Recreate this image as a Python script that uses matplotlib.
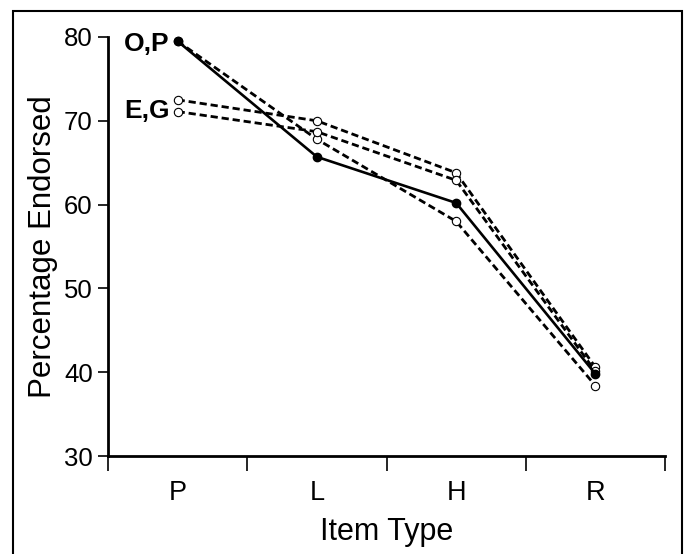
import matplotlib
matplotlib.use("Agg")
import matplotlib.pyplot as plt
import numpy as np
from matplotlib.patches import Rectangle

plt.rcParams['font.family'] = ['Liberation Sans', 'DejaVu Sans']

items = ['P', 'L', 'H', 'R']
series_O = [79.5, 67.8, 58.0, 38.4]
series_P = [79.5, 65.7, 60.2, 39.8]
series_E = [72.5, 70.0, 63.8, 40.6]
series_G = [71.1, 68.7, 62.9, 40.1]

x = np.arange(len(items)) + 0.5

fig = plt.figure(figsize=(6.85, 5.54), dpi=100)
ax = fig.add_axes([108/685, 1 - 456/554, (665-108)/685, (456-37)/554])

dash = (0, (2.6, 1.4))
for s in [series_O, series_E, series_G]:
    ax.plot(x, s, color='black', lw=2.0, linestyle=dash, marker='o',
            markersize=6, markerfacecolor='white', markeredgecolor='black',
            markeredgewidth=0.8, clip_on=False)
ax.plot(x, series_P, color='black', lw=1.9, marker='o', markersize=6,
        markerfacecolor='black', clip_on=False)

ax.set_xlim(0, 4)
ax.set_ylim(30, 80)
ax.set_xticks([0, 1, 2, 3, 4])
ax.set_xticklabels([])
ax.set_xticks(x, minor=True)
ax.set_xticklabels(items, minor=True, fontsize=19.5)
ax.tick_params(axis='x', which='minor', length=0, pad=17)
ax.tick_params(axis='x', which='major', length=11, width=1.2, direction='out')
ax.set_yticks([30, 40, 50, 60, 70, 80])
ax.tick_params(axis='y', length=7, width=1.2, direction='out', labelsize=18.5, pad=4)

for side in ['top', 'right']:
    ax.spines[side].set_visible(False)
for side in ['left', 'bottom']:
    ax.spines[side].set_linewidth(2)

ax.set_xlabel('Item Type', fontsize=22, labelpad=8)
ax.set_ylabel('Percentage Endorsed', fontsize=22.5, labelpad=4)

ax.annotate('O,P', xy=(x[0], 79.2), xytext=(-6, 0), textcoords='offset points',
            ha='right', va='center', fontsize=19, fontweight='bold')
ax.annotate('E,G', xy=(x[0], 71.2), xytext=(-6, 0), textcoords='offset points',
            ha='right', va='center', fontsize=19, fontweight='bold')

fig.patches.append(Rectangle((13/685, -0.01), (682-13)/685, 1 - 11/554 + 0.01,
                             transform=fig.transFigure, fill=False,
                             edgecolor='black', lw=1.5))

fig.savefig('out.png', dpi=100)
